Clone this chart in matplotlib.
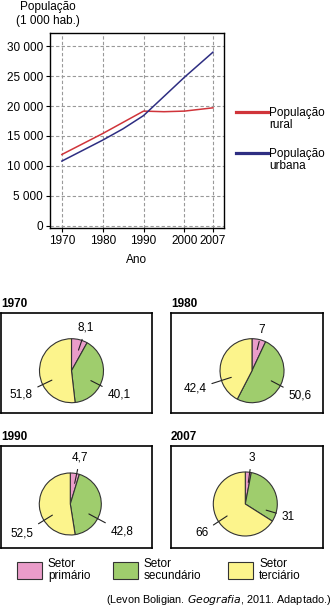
import numpy as np
import matplotlib
matplotlib.use("Agg")
import matplotlib.pyplot as plt
from matplotlib.lines import Line2D
from matplotlib.patches import Rectangle

plt.rcParams['font.family'] = ['Liberation Sans', 'DejaVu Sans']

# --- data ---
years_rural = [1970, 1980, 1990, 1995, 2000, 2007]
rural = [11900, 15400, 19150, 19050, 19150, 19700]
years_urban = [1970, 1980, 1985, 1990, 2000, 2007]
urban = [10800, 14300, 16200, 18400, 24800, 29000]
year_ticks = [1970, 1980, 1990, 2000, 2007]
pop_ticks = [0, 5000, 10000, 15000, 20000, 25000, 30000]

pie_years = ['1970', '1980', '1990', '2007']
primario = [8.1, 7, 4.7, 3]
secundario = [40.1, 50.6, 42.8, 31]
terciario = [51.8, 42.4, 52.5, 66]
pie_labels = [['8,1', '40,1', '51,8'], ['7', '50,6', '42,4'],
              ['4,7', '42,8', '52,5'], ['3', '31', '66']]
sector_names = ['Setor\nprimário', 'Setor\nsecundário', 'Setor\nterciário']
sector_colors = ['#ea9cc9', '#9fcd6d', '#fcf48c']

W, H = 333, 609
fig = plt.figure(figsize=(W / 100, H / 100), dpi=100)


def fx(px):
    return px / W


def fy(py):
    return 1 - py / H


# --- line chart ---
ax = fig.add_axes([fx(50), fy(228), fx(224) - fx(50), fy(33) - fy(228)])
ax.plot(years_rural, rural, color='#d0343a', lw=1.1)
ax.plot(years_urban, urban, color='#2e2e82', lw=1.1)
ax.set_xlim(1967.1, 2009.7)
ax.set_ylim(-380, 32200)
ax.set_xticks(year_ticks)
ax.set_yticks(pop_ticks)
ax.set_yticklabels([f'{v:,}'.replace(',', ' ') for v in pop_ticks])
ax.tick_params(labelsize=8.5, length=3, width=0.8, pad=2)
ax.grid(True, linestyle=(0, (3, 2)), color='#999999', lw=0.8)
for s in ax.spines.values():
    s.set_linewidth(1)
ax.set_xlabel('Ano', fontsize=8.5, labelpad=5)
fig.text(fx(48), fy(14), 'População\n(1 000 hab.)', fontsize=8.5,
         ha='center', va='center', linespacing=1.15)

# legend for lines
for name, col, py in [('População\nrural', '#d0343a', 112),
                      ('População\nurbana', '#2e2e82', 153)]:
    fig.add_artist(Line2D([fx(236), fx(268)], [fy(py), fy(py)],
                          color=col, lw=2.3))
    fig.text(fx(269), fy(py - 5), name, fontsize=8.5, ha='left', va='top',
             linespacing=1.05)

# --- pies ---
boxes = [(1, 313, 152, 413), (171, 313, 323, 413),
         (1, 446, 152, 548), (171, 446, 323, 548)]
centers = [(71.5, 370.7, 32), (252, 370.7, 32),
           (70.3, 504, 31), (245.3, 504, 32)]
label_offsets = [[(14.5, 42.7), (47.5, -24.3), (-50.5, -24.3)],
                 [(10, 40.7), (48, -25.3), (-57, -18.3)],
                 [(9.7, 46), (51.7, -27.7), (-48.3, -30)],
                 [(6.4, 46), (43, -12.7), (-43.6, -28.7)]]

for i, yr in enumerate(pie_years):
    x0, y0, x1, y1 = boxes[i]
    bw, bh = x1 - x0, y1 - y0
    pax = fig.add_axes([fx(x0), fy(y1), bw / W, bh / H])
    cx, cy, r = centers[i]
    c = (cx - x0, y1 - cy)
    vals = [primario[i], secundario[i], terciario[i]]
    pax.pie(vals, colors=sector_colors, startangle=90, counterclock=False,
            center=c, radius=r, frame=True,
            wedgeprops=dict(edgecolor='#333333', linewidth=0.8))
    pax.set_xlim(0, bw)
    pax.set_ylim(0, bh)
    pax.set_aspect('auto')
    pax.set_xticks([])
    pax.set_yticks([])
    for s in pax.spines.values():
        s.set_linewidth(1.2)
    for lab, (dx, dy) in zip(pie_labels[i], label_offsets[i]):
        d = np.hypot(dx, dy)
        anchor = (c[0] + 0.68 * r * dx / d, c[1] + 0.68 * r * dy / d)
        pax.annotate(lab, xy=anchor, xytext=(c[0] + dx, c[1] + dy),
                     fontsize=8.5, ha='center', va='center',
                     arrowprops=dict(arrowstyle='-', color='#222222', lw=0.8,
                                     shrinkA=2, shrinkB=0))
    fig.text(fx(x0), fy(y0 - 3), yr, fontsize=8.5, fontweight='bold',
             ha='left', va='bottom')

# --- sector legend ---
for name, col, px in zip(sector_names, sector_colors, [17, 113, 228]):
    fig.add_artist(Rectangle((fx(px), fy(579)), 25 / W, 17 / H,
                             facecolor=col, edgecolor='#333333', lw=0.8,
                             transform=fig.transFigure))
    fig.text(fx(px + 31), fy(570), name, fontsize=8.5, ha='left',
             va='center', linespacing=0.95)

fig.text(fx(331), fy(600), '(Levon Boligian. $\\mathit{Geografia}$, 2011. Adaptado.)',
         fontsize=7.8, ha='right', va='center')

fig.savefig('out.png', dpi=100)
